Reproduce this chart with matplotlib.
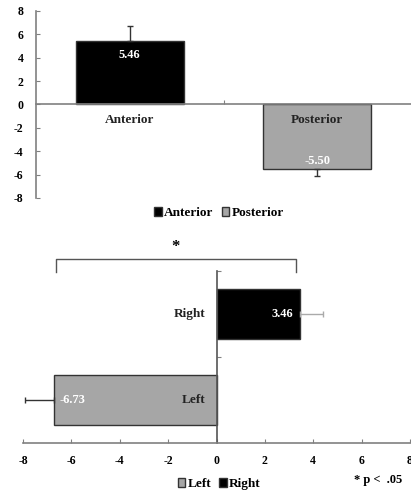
import matplotlib.pyplot as plt
from matplotlib.patches import Patch

# region effect (anterior / posterior)
region_names = ["Anterior", "Posterior"]
region_means = [5.46, -5.50]
region_err = [1.24, 0.60]

# hemisphere effect (left / right)
side_names = ["Left", "Right"]
side_means = [-6.73, 3.46]
side_err = [1.20, 0.93]

ticks = [-8, -6, -4, -2, 0, 2, 4, 6, 8]
black = "#000000"
grey = "#a6a6a6"
axis_col = "#808080"
serif = {"family": "Liberation Serif", "weight": "bold"}

plt.rcParams["font.family"] = "Liberation Serif"
plt.rcParams["font.weight"] = "bold"

fig = plt.figure(figsize=(4.11, 4.93), dpi=100)

# ---------- top: vertical bars ----------
ax1 = fig.add_axes([0.0876, 0.5984, 0.9124, 0.3793])
cols = [black, grey]
ax1.bar([0, 1], region_means, width=0.575, color=cols, edgecolor="#333333",
        linewidth=1, zorder=2)
ax1.errorbar([0, 1], region_means,
             yerr=[[0, region_err[1]], [region_err[0], 0]],
             fmt="none", ecolor="#333333", elinewidth=1, capsize=2, zorder=3)
ax1.set_xlim(-0.5, 1.5)
ax1.set_ylim(-8, 8)
ax1.set_yticks(ticks)
ax1.set_yticklabels([str(t) for t in ticks], fontsize=8.5, **serif)
ax1.set_xticks([0.5])
ax1.set_xticklabels([])
ax1.tick_params(axis="y", direction="in", length=3, color=axis_col, pad=9)
ax1.tick_params(axis="x", direction="in", length=3, color=axis_col)
for s in ["top", "right"]:
    ax1.spines[s].set_visible(False)
ax1.spines["bottom"].set_position(("data", 0))
for s in ["left", "bottom"]:
    ax1.spines[s].set_color(axis_col)
    ax1.spines[s].set_linewidth(1.2)
for i, v in enumerate(region_means):
    off = -14 if v > 0 else 8
    ax1.annotate(f"{v:.2f}", (i, v), xytext=(0, off), textcoords="offset pixels",
                 ha="center", va="center", color="white", fontsize=9, **serif)
    ax1.annotate(region_names[i], (i, 0), xytext=(0, -16), textcoords="offset pixels",
                 ha="center", va="center", color="#222222", fontsize=9.5, **serif)

fig.legend(handles=[Patch(facecolor=black, edgecolor="#333333", label="Anterior"),
                    Patch(facecolor=grey, edgecolor="#333333", label="Posterior")],
           loc="center", bbox_to_anchor=(219 / 411, 1 - 213 / 493), ncol=2,
           frameon=False, handlelength=0.6, handleheight=0.6, handletextpad=0.15,
           columnspacing=0.6, prop={"family": "Liberation Serif", "weight": "bold", "size": 9.5})

# ---------- bottom: horizontal bars ----------
ax2 = fig.add_axes([0.056, 0.102, 0.9416, 0.349])
ax2.barh([0, 1], side_means, height=0.58, color=[grey, black],
         edgecolor="#333333", linewidth=1, zorder=2)
ax2.errorbar([side_means[0]], [0], xerr=[[side_err[0]], [0]], fmt="none",
             ecolor="#333333", elinewidth=1, capsize=2, zorder=3)
ax2.errorbar([side_means[1]], [1], xerr=[[0], [side_err[1]]], fmt="none",
             ecolor="#aaaaaa", elinewidth=1, capsize=2, zorder=3)
ax2.set_xlim(-8, 8)
ax2.set_ylim(-0.5, 1.5)
ax2.set_xticks(ticks)
ax2.set_xticklabels([str(t) for t in ticks], fontsize=8.5, **serif)
ax2.set_yticks([0.5, 1.5])
ax2.set_yticklabels([])
ax2.tick_params(axis="x", direction="in", length=3, color=axis_col, pad=9)
ax2.tick_params(axis="y", direction="in", length=3, color=axis_col)
for s in ["top", "right"]:
    ax2.spines[s].set_visible(False)
ax2.spines["left"].set_position(("data", 0))
for s in ["left", "bottom"]:
    ax2.spines[s].set_color(axis_col)
    ax2.spines[s].set_linewidth(1.2)
ax2.spines["left"].set_color("#555555")

for i, v in enumerate(side_means):
    if v > 0:
        ax2.annotate(f"{v:.2f}", (v, i), xytext=(-7, 0), textcoords="offset pixels",
                     ha="right", va="center", color="white", fontsize=9, **serif)
    else:
        ax2.annotate(f"{v:.2f}", (v, i), xytext=(6, 0), textcoords="offset pixels",
                     ha="left", va="center", color="white", fontsize=9, **serif)
    ax2.annotate(side_names[i], (0, i), xytext=(-11, 0), textcoords="offset pixels",
                 ha="right", va="center", color="#222222", fontsize=9.5, **serif)

# significance bracket between the two sides
ax2.plot([-6.65, -6.65, 3.3, 3.3], [1.49, 1.633, 1.633, 1.49], color="#555555",
         linewidth=1, clip_on=False)
ax2.text(-1.7, 1.78, "*", ha="center", va="center", fontsize=12, **serif)

fig.legend(handles=[Patch(facecolor=grey, edgecolor="#333333", label="Left"),
                    Patch(facecolor=black, edgecolor="#333333", label="Right")],
           loc="center", bbox_to_anchor=(219 / 411, 1 - 484 / 493), ncol=2,
           frameon=False, handlelength=0.6, handleheight=0.6, handletextpad=0.15,
           columnspacing=0.6, prop={"family": "Liberation Serif", "weight": "bold", "size": 9.5})
fig.text(378 / 411, 1 - 480 / 493, "* p <  .05", ha="center", va="center",
         fontsize=9, **serif)

fig.savefig("out.png", dpi=100)
